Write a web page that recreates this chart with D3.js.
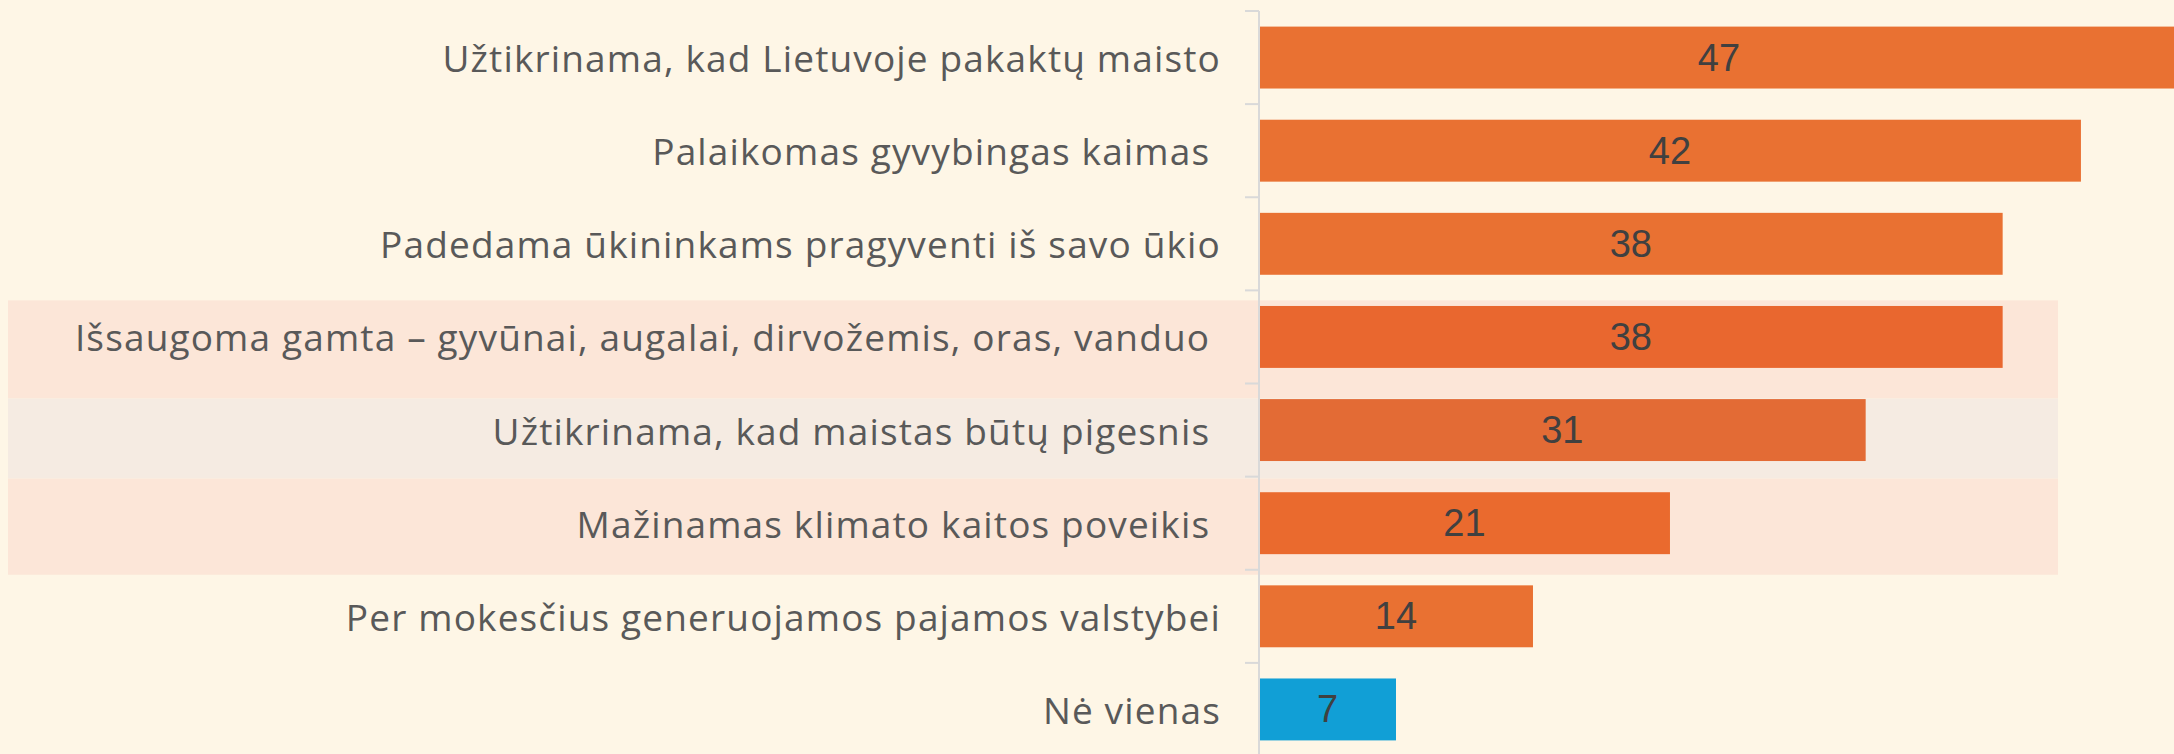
<!DOCTYPE html>
<html>
<head>
<meta charset="utf-8">
<script src="https://cdn.jsdelivr.net/npm/d3@7/dist/d3.min.js"></script>
<style>
  html, body { margin: 0; padding: 0; background: #FEF6E6; }
  svg { display: block; }
</style>
</head>
<body>
<svg id="chart" width="2174" height="754"></svg>
<script>
const categories = [
  "Užtikrinama, kad Lietuvoje pakaktų maisto",
  "Palaikomas gyvybingas kaimas ",
  "Padedama ūkininkams pragyventi iš savo ūkio",
  "Išsaugoma gamta – gyvūnai, augalai, dirvožemis, oras, vanduo ",
  "Užtikrinama, kad maistas būtų pigesnis ",
  "Mažinamas klimato kaitos poveikis ",
  "Per mokesčius generuojamos pajamos valstybei",
  "Nė vienas"
];
const values = [47, 42, 38, 38, 31, 21, 14, 7];
const barColors = ["#E97132", "#E97132", "#E97132", "#E9672F", "#E36B35", "#EA6A2E", "#E97132", "#119FD6"];
const highlightRows = [3, 4, 5];
const highlightColors = ["#FCE6D8", "#F5EBE2", "#FCE6D8"];

const W = 2174, H = 754;
const svg = d3.select("#chart");
svg.append("rect").attr("width", W).attr("height", H).attr("fill", "#FEF6E6");

const x0 = 1259;
const x = d3.scaleLinear().domain([0, 47]).range([x0, x0 + 47 * 19.57]);
const y = d3.scaleBand().domain(categories).range([11, 756])
  .paddingInner(0.335).paddingOuter(0.1675);
const step = y.step();
const bandTop = c => y(c) - y.paddingOuter() * step;

// highlight row backgrounds
const hl = svg.append("g");
const hlTops = [bandTop(categories[3]) + 10, bandTop(categories[4]) + 15, bandTop(categories[5]) + 2];
const hlBottoms = [bandTop(categories[4]) + 15, bandTop(categories[5]) + 2, bandTop(categories[5]) + step + 5];
highlightRows.forEach((r, i) => {
  hl.append("rect")
    .attr("x", 8).attr("width", 2058 - 8)
    .attr("y", hlTops[i]).attr("height", hlBottoms[i] - hlTops[i])
    .attr("fill", highlightColors[i]);
});

// bars
svg.append("g").selectAll("rect").data(values).join("rect")
  .attr("x", x(0) + 1)
  .attr("y", (d, i) => y(categories[i]))
  .attr("width", d => x(d) - x(0) - 1)
  .attr("height", y.bandwidth())
  .attr("fill", (d, i) => barColors[i]);

// axis
const gAxis = svg.append("g").attr("transform", `translate(${x0},0)`);
gAxis.append("line").attr("x1", 0).attr("x2", 0).attr("y1", 11).attr("y2", H)
  .attr("stroke", "#D9D9D9").attr("stroke-width", 2);
const tickYs = categories.map(bandTop).concat([bandTop(categories[categories.length - 1]) + step]);
gAxis.selectAll("line.tick").data(tickYs).join("line").attr("class", "tick")
  .attr("x1", -14).attr("x2", 0).attr("y1", d => d).attr("y2", d => d)
  .attr("stroke", "#D9D9D9").attr("stroke-width", 2);

// category labels
svg.append("g").selectAll("text").data(categories).join("text")
  .attr("x", 1221)
  .attr("y", d => y(d) + y.bandwidth() / 2)
  .attr("text-anchor", "end")
  .attr("dominant-baseline", "central")
  .attr("xml:space", "preserve")
  .style("white-space", "pre")
  .attr("font-family", "'Open Sans', sans-serif")
  .attr("font-size", 37)
  .attr("letter-spacing", 1.15)
  .attr("fill", "#595959")
  .text(d => d);

// value labels
svg.append("g").selectAll("text").data(values).join("text")
  .attr("x", d => (x(0) + x(d)) / 2)
  .attr("y", (d, i) => y(categories[i]) + y.bandwidth() / 2)
  .attr("text-anchor", "middle")
  .attr("dominant-baseline", "central")
  .attr("font-family", "'Liberation Sans', Arial, sans-serif")
  .attr("font-size", 38)
  .attr("fill", "#404040")
  .text(d => d);
</script>
</body>
</html>
